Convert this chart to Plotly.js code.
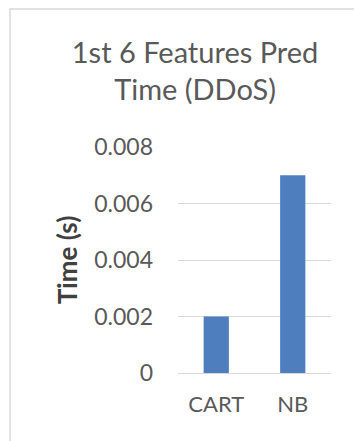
<!DOCTYPE html>
<html>
<head>
<meta charset="utf-8">
<script src="https://cdn.plot.ly/plotly-3.0.1.min.js"></script>
<style>
  html, body { margin: 0; padding: 0; background: #ffffff; }
  #chart { width: 354px; height: 441px; }
</style>
</head>
<body>
<div id="chart"></div>
<script>
// Prediction time for the first six features on the DDoS set
const models = ['CART', 'NB'];
const predTime = [0.002, 0.007];
const yTicks = [0, 0.002, 0.004, 0.006, 0.008];
const yTickLabels = ['0', '0.002', '0.004', '0.006', '0.008'];

const font = 'Lato, "Open Sans", sans-serif';
const grey = '#595959';

const trace = {
  type: 'bar',
  x: models,
  y: predTime,
  marker: { color: '#4F7EBE', line: { width: 0 } },
  hoverinfo: 'x+y'
};

const layout = {
  width: 354,
  height: 441,
  margin: { l: 178, r: 23, t: 147, b: 68 },
  paper_bgcolor: '#ffffff',
  plot_bgcolor: '#ffffff',
  bargap: 0.67,
  showlegend: false,
  title: {
    text: '1st 6 Features Pred<br>Time (DDoS)',
    font: { family: font, size: 29, color: grey },
    xref: 'container', x: 0.551, xanchor: 'center',
    yref: 'container', y: 0.858, yanchor: 'middle'
  },
  xaxis: {
    type: 'category',
    tickfont: { family: font, size: 22, color: grey },
    ticklabelstandoff: 16,
    showgrid: false,
    showline: false,
    zeroline: false,
    ticks: ''
  },
  yaxis: {
    range: [0, 0.008],
    tickvals: yTicks,
    ticktext: yTickLabels,
    tickfont: { family: font, size: 23, color: grey },
    ticklabelstandoff: 24,
    showgrid: true,
    gridcolor: '#d9d9d9',
    gridwidth: 1,
    zeroline: true,
    zerolinecolor: '#d9d9d9',
    zerolinewidth: 1,
    showline: false,
    ticks: '',
    title: {
      text: '<b>Time (s)</b>',
      font: { family: font, size: 26, color: '#404040' },
      standoff: 9
    },
    automargin: true
  },
  shapes: [{
    type: 'rect',
    xref: 'paper', yref: 'paper',
    x0: -1.098, x1: 2.0,
    y0: -1.0, y1: 1.6106,
    line: { color: '#d9d9d9', width: 1.5 },
    fillcolor: 'rgba(0,0,0,0)',
    layer: 'below'
  }]
};

Plotly.newPlot('chart', [trace], layout, { displayModeBar: false, staticPlot: true });
</script>
</body>
</html>
